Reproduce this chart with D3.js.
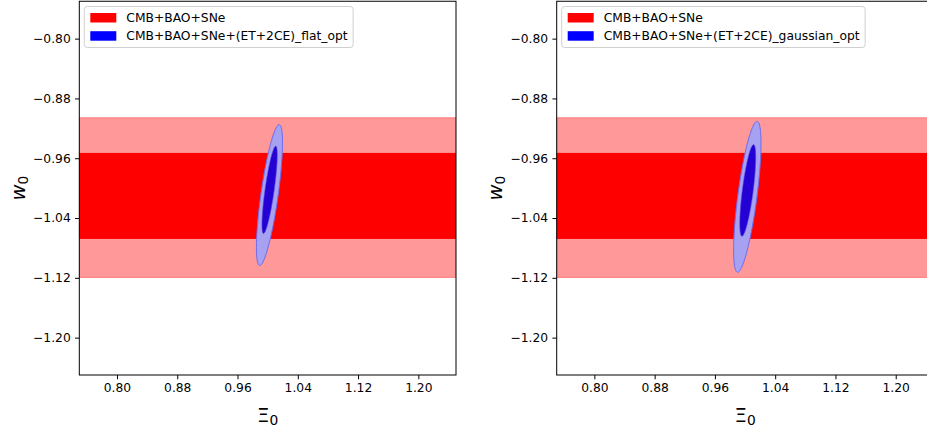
<!DOCTYPE html>
<html>
<head>
<meta charset="utf-8">
<script src="https://cdn.jsdelivr.net/npm/d3@7"></script>
<style>
  html, body { margin: 0; padding: 0; background: #fff; }
  svg { display: block; font-family: "DejaVu Sans", sans-serif; }
</style>
</head>
<body>
<svg id="chart" width="927" height="435"></svg>
<script>
// ---- data ----
const xTicks = [0.80, 0.88, 0.96, 1.04, 1.12, 1.20];
const yTicks = [-0.80, -0.88, -0.96, -1.04, -1.12, -1.20];
const xDomain = [0.75, 1.25];
const yDomain = [-1.25, -0.75];
const panelNames = ["flat_opt", "gaussian_opt"];
const legendBase = "CMB+BAO+SNe";
const legendCombined = ["CMB+BAO+SNe+(ET+2CE)_flat_opt", "CMB+BAO+SNe+(ET+2CE)_gaussian_opt"];
// CMB+BAO+SNe bands in w0 (Xi0 unconstrained): [low, high]
const band95 = [-1.1193, -0.906];
const band68 = [-1.068, -0.9529];
// contours: [centerXi0, centerW0, topXi0, topW0, halfWidthXi0]
const flat95 = [1.0024, -1.0094, 1.0153, -0.9151, 0.01154];
const flat68 = [1.0026, -1.0023, 1.0107, -0.9438, 0.00617];
const gauss95 = [1.0030, -1.0116, 1.0159, -0.9106, 0.0128];
const gauss68 = [1.0036, -1.0031, 1.0113, -0.9418, 0.0073];
const contours = [[flat95, flat68], [gauss95, gauss68]];

// ---- layout ----
const axesLeft = [79.3, 556.7];
const axesWidth = 376.7;
const axesTop = 1.25;
const axesBottom = 375;
const fs = 12.3;
const labelFs = 19.7;

const svg = d3.select("#chart");

panelNames.forEach((name, i) => {
  const x0 = axesLeft[i];
  const x = d3.scaleLinear().domain(xDomain).range([x0, x0 + axesWidth]);
  const y = d3.scaleLinear().domain(yDomain).range([axesBottom, axesTop]);
  const g = svg.append("g");

  const clipId = "clip" + i;
  svg.append("defs").append("clipPath").attr("id", clipId)
    .append("rect").attr("x", x0).attr("y", axesTop)
    .attr("width", axesWidth).attr("height", axesBottom - axesTop);

  const plot = g.append("g").attr("clip-path", `url(#${clipId})`);

  // bands
  plot.append("rect")
    .attr("x", x(xDomain[0])).attr("width", x(xDomain[1]) - x(xDomain[0]))
    .attr("y", y(band95[1])).attr("height", y(band95[0]) - y(band95[1]))
    .attr("fill", "#ff9999").attr("stroke", "#ff7575").attr("stroke-width", 1);
  plot.append("rect")
    .attr("x", x(xDomain[0]) - 2).attr("width", x(xDomain[1]) - x(xDomain[0]) + 4)
    .attr("y", y(band68[1])).attr("height", y(band68[0]) - y(band68[1]))
    .attr("fill", "#ff0000");

  // contours (ellipse from conjugate semi-diameters)
  const line = d3.line().curve(d3.curveLinearClosed);
  const ellipsePath = (c) => {
    const [cx, cy, tx, ty, hw] = c;
    const pts = d3.range(0, 120).map(k => {
      const t = k / 120 * 2 * Math.PI;
      const px = cx + (tx - cx) * Math.cos(t) + hw * Math.sin(t);
      const py = cy + (ty - cy) * Math.cos(t);
      return [x(px), y(py)];
    });
    return line(pts);
  };
  const [c95, c68] = contours[i];
  plot.append("path").attr("d", ellipsePath(c95))
    .attr("fill", "#a6a1f1").attr("stroke", "#6f6aee").attr("stroke-width", 1);
  plot.append("path").attr("d", ellipsePath(c68))
    .attr("fill", "#2400d4").attr("stroke", "#5a50e0").attr("stroke-width", 0.6);

  // spines
  g.append("rect").attr("x", x0).attr("y", axesTop)
    .attr("width", axesWidth).attr("height", axesBottom - axesTop)
    .attr("fill", "none").attr("stroke", "#000").attr("stroke-width", 1);

  // axes
  const fmt = d3.format(".2f");
  const ax = g.append("g").attr("transform", `translate(0,${axesBottom})`)
    .call(d3.axisBottom(x).tickValues(xTicks).tickFormat(fmt).tickSize(4.3).tickPadding(4.3).tickSizeOuter(0));
  const ay = g.append("g").attr("transform", `translate(${x0},0)`)
    .call(d3.axisLeft(y).tickValues(yTicks).tickFormat(fmt).tickSize(4.3).tickPadding(4.3).tickSizeOuter(0));
  [ax, ay].forEach(a => {
    a.select(".domain").remove();
    a.selectAll("text").attr("font-size", fs).attr("font-family", "DejaVu Sans").attr("fill", "#000");
    a.selectAll("line").attr("stroke", "#000").attr("stroke-width", 1);
  });

  // axis labels
  const xl = g.append("text")
    .attr("x", x0 + axesWidth / 2).attr("y", 421.7)
    .attr("text-anchor", "middle").attr("font-size", labelFs).attr("fill", "#000");
  xl.append("tspan").text("Ξ");
  xl.append("tspan").attr("font-size", labelFs * 0.7).attr("dy", 3).text("0");

  const yl = g.append("text")
    .attr("transform", `translate(${x0 - 54.3},${(axesTop + axesBottom) / 2}) rotate(-90)`)
    .attr("text-anchor", "middle").attr("font-size", labelFs).attr("fill", "#000");
  yl.append("tspan").attr("font-style", "italic").text("w");
  yl.append("tspan").attr("font-size", labelFs * 0.7).attr("dy", 3).text("0");

  // legend
  const lg = g.append("g");
  const lx = x0 + 5, ly = 6.5;
  const box = lg.append("rect").attr("x", lx).attr("y", ly).attr("height", 41)
    .attr("rx", 3).attr("ry", 3)
    .attr("fill", "#fff").attr("fill-opacity", 0.8)
    .attr("stroke", "#d0d0d0").attr("stroke-width", 1);
  const items = [[legendBase, "#ff0000"], [legendCombined[i], "#0000ff"]];
  let maxW = 0;
  items.forEach(([label, col], k) => {
    lg.append("rect").attr("x", lx + 6).attr("y", ly + 6.5 + k * 18.2)
      .attr("width", 26).attr("height", 9.5).attr("fill", col);
    const t = lg.append("text").attr("x", lx + 42).attr("y", ly + 15.6 + k * 18.2)
      .attr("font-size", fs).attr("fill", "#000").text(label);
    maxW = Math.max(maxW, t.node().getComputedTextLength());
  });
  box.attr("width", 42 + maxW + 5.5);
});
</script>
</body>
</html>
